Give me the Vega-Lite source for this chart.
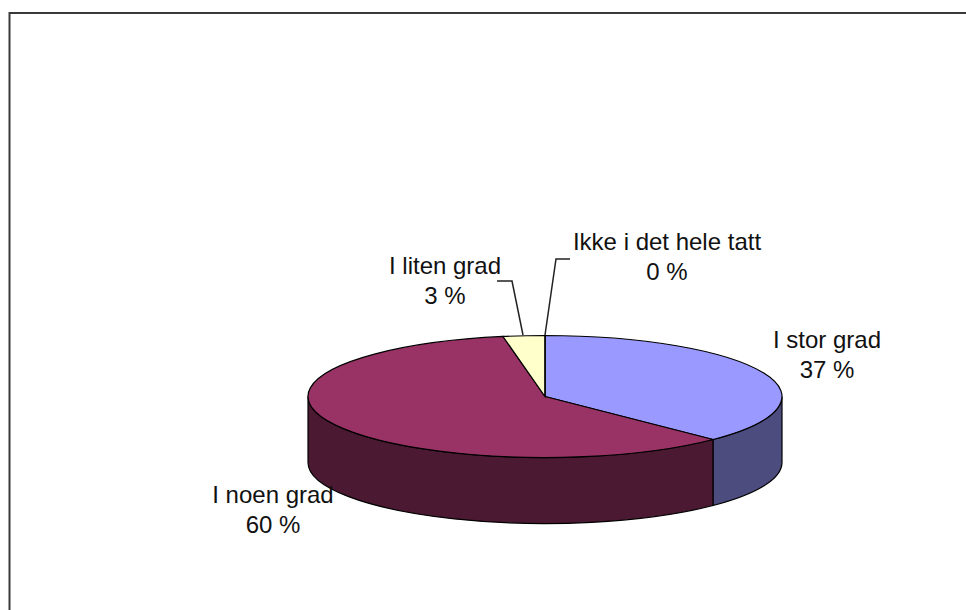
{"$schema":"https://vega.github.io/schema/vega-lite/v6.json","width":966,"height":610,"autosize":{"type":"none"},"padding":0,"background":"#ffffff","config":{"view":{"stroke":null}},"data":{"values":[{"category":"I stor grad","share":37},{"category":"I noen grad","share":60},{"category":"I liten grad","share":3},{"category":"Ikke i det hele tatt","share":0}]},"resolve":{"scale":{"shape":"independent","color":"independent"}},"layer":[{"data":{"values":[{"part":"frame"}]},"mark":{"type":"point","shape":"M-473.5,305L-473.5,-292L483,-292","filled":false,"size":4,"stroke":"#3a3a3a","strokeWidth":2,"opacity":1},"encoding":{}},{"mark":{"type":"point","filled":true,"size":4,"stroke":"#000000","strokeWidth":1.2,"opacity":1},"encoding":{"shape":{"field":"category","type":"nominal","legend":null,"scale":{"domain":["I stor grad","I noen grad","I liten grad","Ikke i det hele tatt"],"range":["M230,134.52A237,61,0,0,0,299,91.5L299,157.5A237,61,0,0,1,230,200.52Z","M-175,91.5A237,61,0,0,0,230,134.52L230,200.52A237,61,0,0,1,-175,157.5Z","M62,30.5","M62,30.5"]}},"color":{"field":"category","type":"nominal","legend":null,"scale":{"domain":["I stor grad","I noen grad","I liten grad","Ikke i det hele tatt"],"range":["#4c4c7f","#4c1933","#7f7f66","#7f7f66"]}}}},{"mark":{"type":"point","filled":true,"size":4,"stroke":"#000000","strokeWidth":1.2,"opacity":1},"encoding":{"shape":{"field":"category","type":"nominal","legend":null,"scale":{"domain":["I stor grad","I noen grad","I liten grad","Ikke i det hele tatt"],"range":["M62,91.5L62,30.5A237,61,0,0,1,230,134.52Z","M62,91.5L230,134.52A237,61,0,1,1,20,31.47Z","M62,91.5L20,31.47A237,61,0,0,1,62,30.5Z","M62,91.5L62,30.5Z"]}},"color":{"field":"category","type":"nominal","legend":null,"scale":{"domain":["I stor grad","I noen grad","I liten grad","Ikke i det hele tatt"],"range":["#9999ff","#993366","#ffffcc","#ccffcc"]}}}},{"transform":[{"filter":"datum.share < 10"}],"mark":{"type":"point","filled":false,"size":4,"stroke":"#222222","strokeWidth":1.5,"opacity":1},"encoding":{"shape":{"field":"category","type":"nominal","legend":null,"scale":{"domain":["I liten grad","Ikke i det hele tatt"],"range":["M14,-24L29,-24L40,30","M87,-46L73,-46L62,30"]}}}},{"transform":[{"calculate":"datum.category + '\\n' + datum.share + ' %'","as":"label"}],"mark":{"type":"text","font":"Liberation Sans","fontSize":24,"color":"#111111","align":"center","baseline":"alphabetic","lineBreak":"\n","lineHeight":29.5},"encoding":{"text":{"field":"label","type":"nominal"},"x":{"field":"share","type":"quantitative","axis":null,"scale":{"domain":[0,3,37,60],"range":[667,445,827,273],"zero":false,"nice":false}},"y":{"field":"share","type":"quantitative","axis":null,"scale":{"domain":[0,3,37,60],"range":[250,274,348,503],"zero":false,"nice":false}}}}]}
